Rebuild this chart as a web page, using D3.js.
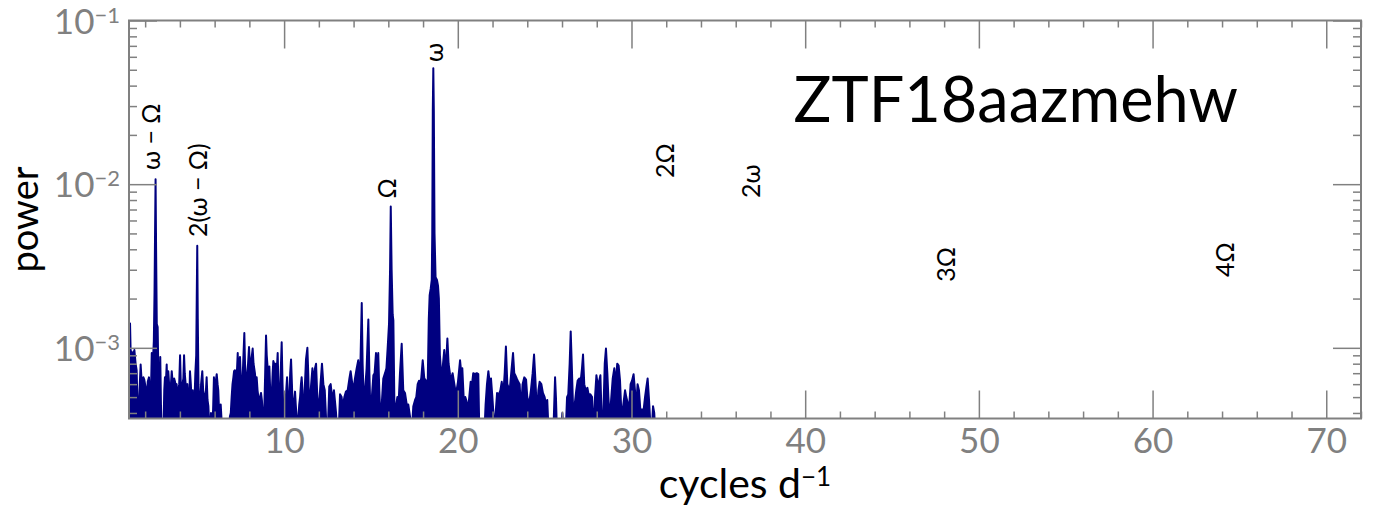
<!DOCTYPE html>
<meta charset="utf-8">
<title>ZTF18aazmehw periodogram</title>
<style>
body { margin: 0; background: #fff; }
text { font-family: Lato, "Open Sans", sans-serif; }
.tick line { stroke: #808080; stroke-width: 1.5px; }
.tick text { fill: #808080; font-size: 35px; }
.frame { fill: none; stroke: #808080; stroke-width: 2px; }
.spec { fill: #000080; stroke: #000080; stroke-width: 2px; stroke-linejoin: round; }
.peak { font-size: 25px; fill: #000; }
</style>
<svg width="1374" height="513"></svg>
<script src="https://d3js.org/d3.v7.min.js"></script>
<script>

// periodogram (cycles/day, power)
var freq = [
  1.07, 1.13, 1.18, 1.22, 1.30, 1.38, 1.45, 1.51, 1.56, 1.61, 1.66, 1.74, 1.80, 1.84, 1.90, 1.95, 2.02, 2.09, 2.15, 2.22,
  2.28, 2.32, 2.38, 2.44, 2.50, 2.54, 2.57, 2.60, 2.63, 2.67, 2.72, 2.77, 2.82, 2.87, 2.91, 2.95, 3.05, 3.10, 3.14, 3.19,
  3.24, 3.28, 3.33, 3.38, 3.43, 3.53, 3.58, 3.62, 3.67, 3.72, 3.77, 3.81, 3.86, 3.91, 3.96, 4.01, 4.05, 4.10, 4.15, 4.20,
  4.24, 4.28, 4.33, 4.38, 4.43, 4.48, 4.53, 4.58, 4.63, 4.68, 4.74, 4.78, 4.81, 4.86, 4.89, 4.94, 4.97, 5.00, 5.03, 5.07,
  5.12, 5.17, 5.22, 5.29, 5.34, 5.40, 5.45, 5.50, 5.54, 5.59, 5.64, 5.68, 5.73, 5.79, 5.83, 5.87, 5.92, 5.96, 6.01, 6.06,
  6.12, 6.17, 6.21, 6.26, 6.30, 6.35, 6.40, 6.44, 6.79, 6.84, 6.88, 6.93, 6.98, 7.03, 7.08, 7.12, 7.17, 7.22, 7.28, 7.33,
  7.38, 7.42, 7.46, 7.51, 7.56, 7.60, 7.66, 7.71, 7.75, 7.80, 7.84, 7.89, 7.94, 7.98, 8.03, 8.07, 8.12, 8.19, 8.24, 8.28,
  8.32, 8.37, 8.42, 8.47, 8.52, 8.57, 8.62, 8.67, 8.72, 8.77, 8.82, 8.86, 8.91, 8.96, 9.00, 9.05, 9.10, 9.15, 9.20, 9.25,
  9.30, 9.34, 9.38, 9.43, 9.47, 9.51, 9.56, 9.60, 9.63, 9.67, 9.72, 9.77, 9.82, 9.86, 9.91, 9.96, 10.00, 10.05, 10.10, 10.17,
  10.21, 10.24, 10.30, 10.35, 10.40, 10.45, 10.49, 10.55, 10.60, 10.63, 10.67, 10.72, 10.77, 10.82, 10.87, 10.92, 10.97, 11.01, 11.06, 11.10,
  11.15, 11.20, 11.26, 11.34, 11.39, 11.45, 11.53, 11.63, 11.70, 11.78, 11.84, 11.91, 11.97, 12.07, 12.18, 12.26, 12.34, 12.41, 12.51, 12.60,
  12.68, 12.78, 12.87, 12.99, 13.06, 13.14, 13.22, 13.31, 13.37, 13.47, 13.56, 13.66, 13.76, 13.83, 13.91, 13.99, 14.08, 14.18, 14.27, 14.37,
  14.43, 14.47, 14.52, 14.58, 14.66, 14.75, 14.85, 14.91, 14.96, 15.04, 15.14, 15.21, 15.29, 15.37, 15.42, 15.48, 15.54, 15.62, 15.71, 15.81,
  15.89, 15.96, 16.04, 16.10, 16.14, 16.19, 16.25, 16.29, 16.35, 16.44, 16.52, 16.60, 16.67, 16.77, 16.86, 16.96, 17.06, 17.15, 17.25, 17.34,
  17.44, 17.54, 17.61, 17.69, 17.77, 17.84, 17.90, 17.98, 18.07, 18.17, 18.26, 18.33, 18.38, 18.44, 18.50, 18.53, 18.56, 18.59, 18.62, 18.66,
  18.72, 18.80, 18.86, 18.91, 18.97, 19.07, 19.15, 19.22, 19.30, 19.40, 19.47, 19.55, 19.63, 19.70, 19.78, 19.86, 19.93, 20.01, 20.13, 20.20,
  20.26, 20.36, 20.43, 20.51, 20.61, 20.66, 20.74, 20.82, 20.89, 20.99, 21.09, 21.18, 21.24, 21.53, 21.60, 21.68, 21.76, 21.83, 21.91, 21.99,
  22.05, 22.10, 22.18, 22.26, 22.37, 22.45, 22.53, 22.62, 22.70, 22.77, 22.85, 22.93, 23.00, 23.10, 23.18, 23.25, 23.31, 23.39, 23.48, 23.56,
  23.64, 23.73, 23.83, 23.93, 24.00, 24.10, 24.21, 24.31, 24.39, 24.48, 24.56, 24.64, 24.71, 24.81, 24.90, 25.00, 25.08, 25.15, 25.23, 25.50,
  25.60, 25.65, 25.71, 25.94, 26.02, 26.09, 26.21, 26.29, 26.36, 26.44, 26.50, 26.56, 26.63, 26.73, 26.82, 26.90, 27.00, 27.07, 27.15, 27.21,
  27.28, 27.36, 27.46, 27.53, 27.63, 27.73, 27.80, 27.90, 27.98, 28.05, 28.13, 28.21, 28.28, 28.38, 28.46, 28.53, 28.61, 28.67, 28.74, 28.82,
  28.92, 29.01, 29.09, 29.18, 29.26, 29.34, 29.43, 29.53, 29.63, 29.70, 29.78, 29.88, 29.95, 30.03, 30.12, 30.20, 30.26, 30.35, 30.43, 30.51,
  30.60, 30.70, 30.78, 30.85, 30.93, 31.01, 31.08, 31.16, 31.24, 31.31, 31.37, 31.50
];
var power = [
  1.30e-3, 1.41e-3, 0.80e-3, 0.95e-3, 0.90e-3, 0.97e-3, 0.80e-3, 0.73e-3, 0.45e-3, 0.30e-3, 0.50e-3, 0.79e-3, 0.62e-3, 0.55e-3, 0.66e-3, 0.64e-3, 0.58e-3, 0.48e-3, 0.62e-3, 0.66e-3,
  0.50e-3, 0.45e-3, 0.93e-3, 0.80e-3, 1.10e-3, 2.20e-3, 5.00e-3, 1.07e-2, 4.00e-3, 1.40e-3, 1.34e-3, 0.60e-3, 0.30e-3, 0.88e-3, 0.45e-3, 0.30e-3, 0.30e-3, 0.55e-3, 0.66e-3, 0.60e-3,
  0.79e-3, 0.55e-3, 0.72e-3, 0.60e-3, 0.48e-3, 0.72e-3, 0.62e-3, 0.55e-3, 0.65e-3, 0.62e-3, 0.58e-3, 0.60e-3, 0.50e-3, 0.55e-3, 0.60e-3, 0.90e-3, 0.62e-3, 0.55e-3, 0.60e-3, 0.65e-3,
  0.90e-3, 0.70e-3, 0.60e-3, 0.58e-3, 0.60e-3, 0.50e-3, 0.40e-3, 0.72e-3, 0.60e-3, 0.45e-3, 0.55e-3, 0.40e-3, 0.30e-3, 0.55e-3, 0.70e-3, 0.90e-3, 2.00e-3, 4.20e-3, 1.50e-3, 0.60e-3,
  0.48e-3, 0.40e-3, 0.60e-3, 0.72e-3, 0.55e-3, 0.50e-3, 0.48e-3, 0.55e-3, 0.66e-3, 0.48e-3, 0.44e-3, 0.35e-3, 0.30e-3, 0.40e-3, 0.33e-3, 0.30e-3, 0.45e-3, 0.66e-3, 0.50e-3, 0.62e-3,
  0.69e-3, 0.60e-3, 0.55e-3, 0.40e-3, 0.35e-3, 0.45e-3, 0.36e-3, 0.30e-3, 0.30e-3, 0.34e-3, 0.38e-3, 0.40e-3, 0.50e-3, 0.60e-3, 0.66e-3, 0.72e-3, 0.73e-3, 0.62e-3, 0.70e-3, 0.93e-3,
  0.55e-3, 0.80e-3, 0.88e-3, 0.65e-3, 0.50e-3, 0.60e-3, 0.90e-3, 1.23e-3, 0.80e-3, 0.65e-3, 0.55e-3, 0.70e-3, 0.85e-3, 1.01e-3, 0.80e-3, 0.75e-3, 0.85e-3, 0.99e-3, 0.80e-3, 0.75e-3,
  0.70e-3, 0.60e-3, 0.66e-3, 0.55e-3, 0.50e-3, 0.45e-3, 0.50e-3, 0.53e-3, 0.48e-3, 0.40e-3, 0.38e-3, 0.42e-3, 0.70e-3, 1.19e-3, 0.90e-3, 0.76e-3, 0.60e-3, 0.77e-3, 0.55e-3, 0.47e-3,
  0.55e-3, 0.70e-3, 0.83e-3, 0.80e-3, 0.78e-3, 0.80e-3, 0.70e-3, 0.80e-3, 0.93e-3, 0.60e-3, 0.45e-3, 0.55e-3, 0.80e-3, 1.08e-3, 0.60e-3, 0.40e-3, 0.36e-3, 0.36e-3, 0.50e-3, 0.66e-3,
  0.50e-3, 0.38e-3, 0.50e-3, 0.70e-3, 0.85e-3, 0.60e-3, 0.44e-3, 0.45e-3, 0.50e-3, 0.54e-3, 0.45e-3, 0.38e-3, 0.34e-3, 0.37e-3, 0.45e-3, 0.50e-3, 0.60e-3, 0.66e-3, 0.55e-3, 0.40e-3,
  0.40e-3, 0.60e-3, 0.85e-3, 1.00e-3, 0.70e-3, 0.40e-3, 0.55e-3, 0.75e-3, 0.62e-3, 0.75e-3, 0.80e-3, 0.50e-3, 0.40e-3, 0.55e-3, 0.80e-3, 0.60e-3, 0.55e-3, 0.38e-3, 0.30e-3, 0.58e-3,
  0.60e-3, 0.48e-3, 0.55e-3, 0.40e-3, 0.30e-3, 0.30e-3, 0.52e-3, 0.50e-3, 0.44e-3, 0.50e-3, 0.54e-3, 0.55e-3, 0.65e-3, 0.72e-3, 0.62e-3, 0.55e-3, 0.65e-3, 0.75e-3, 0.84e-3, 0.60e-3,
  1.20e-3, 1.88e-3, 0.80e-3, 0.50e-3, 0.55e-3, 0.75e-3, 1.49e-3, 0.70e-3, 0.44e-3, 0.48e-3, 0.68e-3, 0.70e-3, 0.93e-3, 0.75e-3, 0.93e-3, 0.55e-3, 0.38e-3, 0.45e-3, 0.65e-3, 0.70e-3,
  0.75e-3, 0.99e-3, 1.40e-3, 3.00e-3, 7.30e-3, 3.00e-3, 1.60e-3, 1.47e-3, 0.45e-3, 0.44e-3, 0.50e-3, 0.48e-3, 0.70e-3, 1.06e-3, 0.55e-3, 0.53e-3, 0.45e-3, 0.45e-3, 0.38e-3, 0.30e-3,
  0.44e-3, 0.48e-3, 0.50e-3, 0.60e-3, 0.63e-3, 0.60e-3, 0.66e-3, 0.84e-3, 0.65e-3, 0.63e-3, 0.55e-3, 1.50e-3, 2.10e-3, 2.30e-3, 2.60e-3, 5.00e-3, 2.80e-2, 5.10e-2, 2.80e-2, 5.00e-3,
  2.70e-3, 2.60e-3, 2.40e-3, 2.00e-3, 0.90e-3, 0.63e-3, 0.80e-3, 0.97e-3, 0.70e-3, 1.14e-3, 0.80e-3, 0.69e-3, 0.65e-3, 0.70e-3, 0.62e-3, 0.55e-3, 0.55e-3, 0.62e-3, 0.84e-3, 0.70e-3,
  0.75e-3, 0.44e-3, 0.50e-3, 0.47e-3, 0.44e-3, 0.50e-3, 0.62e-3, 0.60e-3, 0.70e-3, 0.69e-3, 0.70e-3, 0.69e-3, 0.30e-3, 0.30e-3, 0.45e-3, 0.60e-3, 0.72e-3, 0.62e-3, 0.65e-3, 0.50e-3,
  0.40e-3, 0.30e-3, 0.40e-3, 0.53e-3, 0.52e-3, 0.55e-3, 0.62e-3, 0.52e-3, 0.70e-3, 1.02e-3, 0.60e-3, 0.57e-3, 0.57e-3, 0.75e-3, 0.93e-3, 0.70e-3, 0.68e-3, 0.65e-3, 0.62e-3, 0.60e-3,
  0.42e-3, 0.60e-3, 0.66e-3, 0.64e-3, 0.50e-3, 0.45e-3, 0.55e-3, 0.70e-3, 0.91e-3, 0.60e-3, 0.38e-3, 0.55e-3, 0.62e-3, 0.60e-3, 0.53e-3, 0.50e-3, 0.45e-3, 0.48e-3, 0.30e-3, 0.30e-3,
  0.66e-3, 0.50e-3, 0.30e-3, 0.30e-3, 0.40e-3, 0.30e-3, 0.30e-3, 0.50e-3, 0.52e-3, 0.80e-3, 1.26e-3, 0.80e-3, 0.45e-3, 0.45e-3, 0.55e-3, 0.63e-3, 0.65e-3, 0.62e-3, 0.75e-3, 0.91e-3,
  0.60e-3, 0.55e-3, 0.57e-3, 0.52e-3, 0.52e-3, 0.50e-3, 0.30e-3, 0.50e-3, 0.68e-3, 0.60e-3, 0.62e-3, 0.68e-3, 0.38e-3, 0.40e-3, 0.80e-3, 0.99e-3, 0.70e-3, 0.50e-3, 0.37e-3, 0.47e-3,
  0.65e-3, 0.75e-3, 0.60e-3, 0.80e-3, 0.78e-3, 0.63e-3, 0.37e-3, 0.45e-3, 0.55e-3, 0.50e-3, 0.46e-3, 0.46e-3, 0.60e-3, 0.63e-3, 0.69e-3, 0.55e-3, 0.42e-3, 0.60e-3, 0.55e-3, 0.42e-3,
  0.42e-3, 0.42e-3, 0.50e-3, 0.57e-3, 0.65e-3, 0.48e-3, 0.35e-3, 0.30e-3, 0.44e-3, 0.40e-3, 0.30e-3, 0.30e-3
];

// peak annotations
var peakNames = ["ω − Ω", "2(ω − Ω)", "Ω", "ω", "2Ω", "2ω", "3Ω", "4Ω"];
var peakFreq = [2.34, 5.06, 15.91, 18.63, 31.93, 36.88, 48.11, 64.17];
var peakPower = [1.22e-2, 4.75e-3, 8.18e-3, 5.58e-2, 1.09e-2, 8.24e-3, 2.53e-3, 2.71e-3];

// ticks
var xMajor = [10, 20, 30, 40, 50, 60, 70];
var xMinor = [2, 4, 6, 8, 12, 14, 16, 18, 22, 24, 26, 28, 32, 34, 36, 38, 42, 44, 46, 48,
              52, 54, 56, 58, 62, 64, 66, 68, 72];
var yMajor = [1e-3, 1e-2, 1e-1];
var yExp = ["−3", "−2", "−1"];
var yMinor = [4e-4, 5e-4, 6e-4, 7e-4, 8e-4, 9e-4,
              2e-3, 3e-3, 4e-3, 5e-3, 6e-3, 7e-3, 8e-3, 9e-3,
              2e-2, 3e-2, 4e-2, 5e-2, 6e-2, 7e-2, 8e-2, 9e-2];

var svg = d3.select("svg"),
    pLeft = 129, pRight = 1361, pTop = 20.5, pBottom = 418.5;

var x = d3.scaleLinear().domain([1.07, 72]).range([pLeft, pRight]);
var y = d3.scaleLog().domain([3.7e-4, 0.1]).range([pBottom, pTop]);
var yMin = y.domain()[0];

svg.append("clipPath").attr("id", "clip")
  .append("rect")
    .attr("x", pLeft).attr("y", pTop)
    .attr("width", pRight - pLeft).attr("height", pBottom - pTop);

var pts = freq.map(function(f, i) { return [f, power[i]]; });

var area = d3.area()
    .x(function(d) { return x(d[0]); })
    .y0(pBottom + 2)
    .y1(function(d) { return y(Math.max(d[1], yMin * 0.8)); });

svg.append("path")
    .datum(pts)
    .attr("class", "spec")
    .attr("clip-path", "url(#clip)")
    .attr("d", area);

// axes, ticks inside on all four sides
function addAxis(axis, tx, ty) {
  var g = svg.append("g").attr("transform", "translate(" + tx + "," + ty + ")").call(axis);
  g.select(".domain").remove();
  return g;
}

addAxis(d3.axisBottom(x).tickValues(xMajor).tickSize(-28).tickPadding(10).tickFormat(d3.format("d")), 0, pBottom);
addAxis(d3.axisBottom(x).tickValues(xMinor).tickSize(-7).tickFormat(""), 0, pBottom);
addAxis(d3.axisTop(x).tickValues(xMajor).tickSize(-28).tickFormat(""), 0, pTop);
addAxis(d3.axisTop(x).tickValues(xMinor).tickSize(-7).tickFormat(""), 0, pTop);

var yl = addAxis(d3.axisLeft(y).tickValues(yMajor).tickSize(-28).tickFormat(function() { return "10"; }), pLeft, 0);
yl.selectAll("text")
    .attr("x", -9)
    .attr("dy", "0.36em")
  .append("tspan")
    .attr("dy", "-0.5em")
    .style("font-size", "22px")
    .text(function(d, i) { return yExp[i]; });
addAxis(d3.axisLeft(y).tickValues(yMinor).tickSize(-8).tickFormat(""), pLeft, 0);
addAxis(d3.axisRight(y).tickValues(yMajor).tickSize(-28).tickFormat(""), pRight, 0);
addAxis(d3.axisRight(y).tickValues(yMinor).tickSize(-8).tickFormat(""), pRight, 0);

svg.append("rect")
    .attr("class", "frame")
    .attr("x", pLeft).attr("y", pTop)
    .attr("width", pRight - pLeft).attr("height", pBottom - pTop);

// peak labels
svg.selectAll(".peak")
  .data(peakNames)
  .enter().append("text")
    .attr("class", "peak")
    .attr("transform", function(d, i) {
      return "translate(" + x(peakFreq[i]) + "," + y(peakPower[i]) + ") rotate(-90)";
    })
    .attr("dy", "0.35em")
    .text(function(d) { return d; });

// titles
svg.append("text")
    .attr("x", 1238).attr("y", 122)
    .attr("text-anchor", "end")
    .style("font-size", "63px")
    .text("ZTF18aazmehw");

svg.append("text")
    .attr("transform", "translate(38," + (pTop + pBottom) / 2 + ") rotate(-90)")
    .attr("text-anchor", "middle")
    .style("font-size", "38px")
    .text("power");

var xl = svg.append("text")
    .attr("x", (pLeft + pRight) / 2).attr("y", 498)
    .attr("text-anchor", "middle")
    .style("font-size", "41px")
    .text("cycles d");
xl.append("tspan")
    .attr("dy", "-0.45em")
    .style("font-size", "26px")
    .text("−1");

</script>
